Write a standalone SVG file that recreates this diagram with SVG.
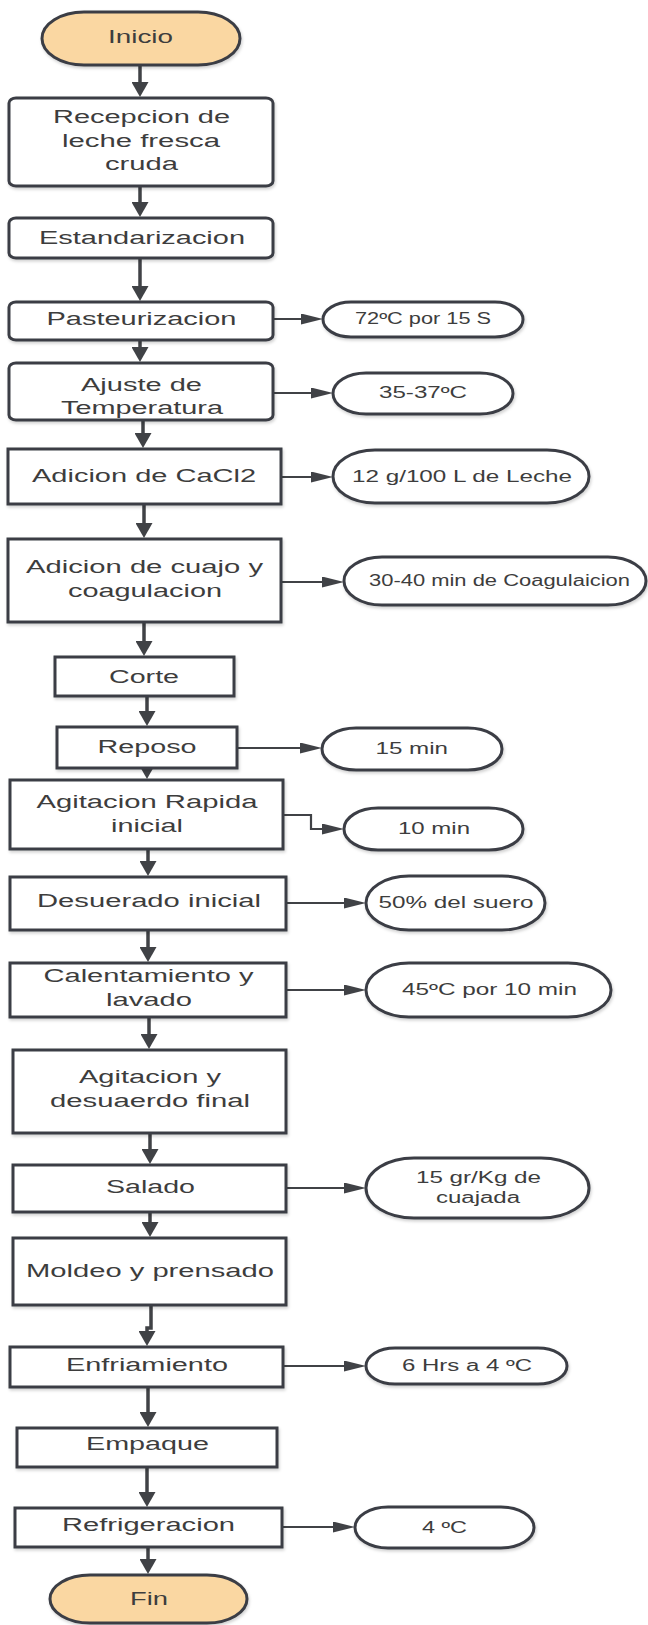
<svg xmlns="http://www.w3.org/2000/svg" width="648" height="1625" viewBox="0 0 648 1625">
<defs>
<style>
.b{fill:#fff;stroke:#3b3e45;stroke-width:3;filter:url(#sh)}
.term{fill:#fad7a2;stroke:#3b3e45;stroke-width:3;filter:url(#sh)}
.t{font-family:"Liberation Sans",Arial,sans-serif;font-size:18px;fill:#3d3d3d}
.s{font-size:16px}
.v{stroke:#404246;stroke-width:3.5;fill:none}
.h{stroke:#404246;stroke-width:2.2;fill:none}
</style>
<filter id="sh" x="-10%" y="-10%" width="120%" height="130%">
<feDropShadow dx="1" dy="2" stdDeviation="1.5" flood-color="#000" flood-opacity="0.18"/>
</filter>
<marker id="av" viewBox="0 0 15 17" refX="11" refY="8.5" markerWidth="15" markerHeight="17" markerUnits="userSpaceOnUse" orient="auto">
<path d="M0,0 L15,8.5 L0,17 z" fill="#404246"/>
</marker>
<marker id="ah" viewBox="0 0 22 11" refX="18" refY="5.5" markerWidth="22" markerHeight="11" markerUnits="userSpaceOnUse" orient="auto">
<path d="M0,0 L22,5.5 L0,11 z" fill="#404246"/>
</marker>
</defs>

<g id="connectors">
<line class="v" x1="140" y1="65" x2="140" y2="93" marker-end="url(#av)"/>
<line class="v" x1="140" y1="186" x2="140" y2="213" marker-end="url(#av)"/>
<line class="v" x1="140" y1="258" x2="140" y2="297" marker-end="url(#av)"/>
<line class="v" x1="140" y1="340" x2="140" y2="358" marker-end="url(#av)"/>
<line class="v" x1="143" y1="420" x2="143" y2="444" marker-end="url(#av)"/>
<line class="v" x1="144" y1="504" x2="144" y2="534" marker-end="url(#av)"/>
<line class="v" x1="144" y1="622" x2="144" y2="652" marker-end="url(#av)"/>
<line class="v" x1="147" y1="696" x2="147" y2="722" marker-end="url(#av)"/>
<line class="v" x1="147" y1="768" x2="147" y2="775" marker-end="url(#av)"/>
<line class="v" x1="148" y1="849" x2="148" y2="872" marker-end="url(#av)"/>
<line class="v" x1="148" y1="930" x2="148" y2="958" marker-end="url(#av)"/>
<line class="v" x1="149" y1="1017" x2="149" y2="1045" marker-end="url(#av)"/>
<line class="v" x1="150" y1="1133" x2="150" y2="1160" marker-end="url(#av)"/>
<line class="v" x1="150" y1="1212" x2="150" y2="1233" marker-end="url(#av)"/>
<polyline class="v" points="151,1305 151,1328 147,1328 147,1342" marker-end="url(#av)"/>
<line class="v" x1="148" y1="1387" x2="148" y2="1423" marker-end="url(#av)"/>
<line class="v" x1="147" y1="1467" x2="147" y2="1503" marker-end="url(#av)"/>
<line class="v" x1="148" y1="1547" x2="148" y2="1570" marker-end="url(#av)"/>

<line class="h" x1="273" y1="319" x2="319" y2="319" marker-end="url(#ah)"/>
<line class="h" x1="273" y1="393" x2="329" y2="393" marker-end="url(#ah)"/>
<line class="h" x1="281" y1="477" x2="329" y2="477" marker-end="url(#ah)"/>
<line class="h" x1="281" y1="582" x2="340" y2="582" marker-end="url(#ah)"/>
<line class="h" x1="237" y1="748" x2="318" y2="748" marker-end="url(#ah)"/>
<polyline class="h" points="283,815 311,815 311,829 340,829" marker-end="url(#ah)"/>
<line class="h" x1="286" y1="903" x2="362" y2="903" marker-end="url(#ah)"/>
<line class="h" x1="286" y1="990" x2="362" y2="990" marker-end="url(#ah)"/>
<line class="h" x1="286" y1="1188" x2="362" y2="1188" marker-end="url(#ah)"/>
<line class="h" x1="283" y1="1366" x2="362" y2="1366" marker-end="url(#ah)"/>
<line class="h" x1="282" y1="1527" x2="351" y2="1527" marker-end="url(#ah)"/>
</g>

<g id="n-inicio"><rect class="term" x="42" y="12" width="198" height="53" rx="42" ry="26.5"/>
<text class="t" x="108" y="43" textLength="65" lengthAdjust="spacingAndGlyphs">Inicio</text></g>

<g id="n-recepcion"><rect class="b" x="9" y="98" width="264" height="88" rx="7" ry="5"/>
<text class="t" x="53" y="123" textLength="177" lengthAdjust="spacingAndGlyphs">Recepcion de</text>
<text class="t" x="62" y="147" textLength="158" lengthAdjust="spacingAndGlyphs">leche fresca</text>
<text class="t" x="105" y="170" textLength="73" lengthAdjust="spacingAndGlyphs">cruda</text></g>

<g id="n-estandarizacion"><rect class="b" x="9" y="218" width="264" height="40" rx="7" ry="5"/>
<text class="t" x="39" y="244" textLength="206" lengthAdjust="spacingAndGlyphs">Estandarizacion</text></g>

<g id="n-pasteurizacion"><rect class="b" x="9" y="302" width="264" height="38" rx="7" ry="5"/>
<text class="t" x="46.5" y="325" textLength="190" lengthAdjust="spacingAndGlyphs">Pasteurizacion</text></g>

<g id="n-ajuste"><rect class="b" x="9" y="363" width="264" height="57" rx="7" ry="5"/>
<text class="t" x="81" y="391" textLength="121" lengthAdjust="spacingAndGlyphs">Ajuste de</text>
<text class="t" x="61" y="414" textLength="162" lengthAdjust="spacingAndGlyphs">Temperatura</text></g>

<g id="n-cacl2"><rect class="b" x="8" y="449" width="273" height="55"/>
<text class="t" x="32" y="482" textLength="224" lengthAdjust="spacingAndGlyphs">Adicion de CaCl2</text></g>

<g id="n-cuajo"><rect class="b" x="8" y="539" width="273" height="83"/>
<text class="t" x="26" y="573" textLength="237" lengthAdjust="spacingAndGlyphs">Adicion de cuajo y</text>
<text class="t" x="68" y="597" textLength="154" lengthAdjust="spacingAndGlyphs">coagulacion</text></g>

<g id="n-corte"><rect class="b" x="55" y="657" width="179" height="39"/>
<text class="t" x="109" y="683" textLength="70" lengthAdjust="spacingAndGlyphs">Corte</text></g>

<g id="n-reposo"><rect class="b" x="57" y="727" width="180" height="41"/>
<text class="t" x="97.5" y="753" textLength="99" lengthAdjust="spacingAndGlyphs">Reposo</text></g>

<g id="n-agitacion-rapida"><rect class="b" x="10" y="780" width="273" height="69"/>
<text class="t" x="36.5" y="808" textLength="221" lengthAdjust="spacingAndGlyphs">Agitacion Rapida</text>
<text class="t" x="111" y="832" textLength="72" lengthAdjust="spacingAndGlyphs">inicial</text></g>

<g id="n-desuerado"><rect class="b" x="10" y="877" width="276" height="53"/>
<text class="t" x="37" y="907" textLength="224" lengthAdjust="spacingAndGlyphs">Desuerado inicial</text></g>

<g id="n-calentamiento"><rect class="b" x="10" y="963" width="276" height="54"/>
<text class="t" x="43.5" y="982" textLength="210" lengthAdjust="spacingAndGlyphs">Calentamiento y</text>
<text class="t" x="106" y="1006" textLength="86" lengthAdjust="spacingAndGlyphs">lavado</text></g>

<g id="n-agitacion-final"><rect class="b" x="13" y="1050" width="273" height="83"/>
<text class="t" x="79" y="1083" textLength="142" lengthAdjust="spacingAndGlyphs">Agitacion y</text>
<text class="t" x="50" y="1107" textLength="200" lengthAdjust="spacingAndGlyphs">desuaerdo final</text></g>

<g id="n-salado"><rect class="b" x="13" y="1165" width="273" height="47"/>
<text class="t" x="106" y="1193" textLength="89" lengthAdjust="spacingAndGlyphs">Salado</text></g>

<g id="n-moldeo"><rect class="b" x="13" y="1238" width="273" height="67"/>
<text class="t" x="26" y="1277" textLength="248" lengthAdjust="spacingAndGlyphs">Moldeo y prensado</text></g>

<g id="n-enfriamiento"><rect class="b" x="10" y="1347" width="273" height="40"/>
<text class="t" x="66" y="1371" textLength="162" lengthAdjust="spacingAndGlyphs">Enfriamiento</text></g>

<g id="n-empaque"><rect class="b" x="17" y="1428" width="260" height="39"/>
<text class="t" x="86" y="1450" textLength="123" lengthAdjust="spacingAndGlyphs">Empaque</text></g>

<g id="n-refrigeracion"><rect class="b" x="15" y="1508" width="267" height="39"/>
<text class="t" x="62" y="1531" textLength="173" lengthAdjust="spacingAndGlyphs">Refrigeracion</text></g>

<g id="n-fin"><rect class="term" x="50" y="1575" width="197" height="48" rx="40" ry="24"/>
<text class="t" x="130" y="1605" textLength="38" lengthAdjust="spacingAndGlyphs">Fin</text></g>

<g id="e-pasteurizacion"><rect class="b" x="323" y="302" width="200" height="35" rx="28" ry="17.5"/>
<text class="t s" x="355" y="324" textLength="136" lengthAdjust="spacingAndGlyphs">72ºC por 15 S</text></g>

<g id="e-ajuste"><rect class="b" x="333" y="373" width="180" height="41" rx="33" ry="20.5"/>
<text class="t s" x="379" y="398" textLength="88" lengthAdjust="spacingAndGlyphs">35-37ºC</text></g>

<g id="e-cacl2"><rect class="b" x="333" y="450" width="256" height="53" rx="42" ry="26.5"/>
<text class="t s" x="352" y="482" textLength="220" lengthAdjust="spacingAndGlyphs">12 g/100 L de Leche</text></g>

<g id="e-cuajo"><rect class="b" x="344" y="557" width="302" height="48" rx="38" ry="24"/>
<text class="t s" x="369" y="586" textLength="261" lengthAdjust="spacingAndGlyphs">30-40 min de Coagulaicion</text></g>

<g id="e-reposo"><rect class="b" x="322" y="728" width="180" height="42" rx="34" ry="21"/>
<text class="t s" x="375.5" y="754" textLength="72.5" lengthAdjust="spacingAndGlyphs">15 min</text></g>

<g id="e-agitacion"><rect class="b" x="344" y="808" width="179" height="42" rx="34" ry="21"/>
<text class="t s" x="398" y="834" textLength="72" lengthAdjust="spacingAndGlyphs">10 min</text></g>

<g id="e-desuerado"><rect class="b" x="366" y="876" width="179" height="54" rx="43" ry="27"/>
<text class="t s" x="378.5" y="908" textLength="155" lengthAdjust="spacingAndGlyphs">50% del suero</text></g>

<g id="e-calentamiento"><rect class="b" x="366" y="963" width="245" height="54" rx="43" ry="27"/>
<text class="t s" x="402" y="995" textLength="175" lengthAdjust="spacingAndGlyphs">45ºC por 10 min</text></g>

<g id="e-salado"><rect class="b" x="366" y="1158" width="223" height="60" rx="48" ry="30"/>
<text class="t s" x="416" y="1183" textLength="125" lengthAdjust="spacingAndGlyphs">15 gr/Kg de</text>
<text class="t s" x="436" y="1203" textLength="84" lengthAdjust="spacingAndGlyphs">cuajada</text></g>

<g id="e-enfriamiento"><rect class="b" x="366" y="1348" width="201" height="36" rx="29" ry="18"/>
<text class="t s" x="402" y="1371" textLength="130" lengthAdjust="spacingAndGlyphs">6 Hrs a 4 ºC</text></g>

<g id="e-refrigeracion"><rect class="b" x="355" y="1507" width="179" height="41" rx="33" ry="20.5"/>
<text class="t s" x="422" y="1533" textLength="45" lengthAdjust="spacingAndGlyphs">4 ºC</text></g>
</svg>
